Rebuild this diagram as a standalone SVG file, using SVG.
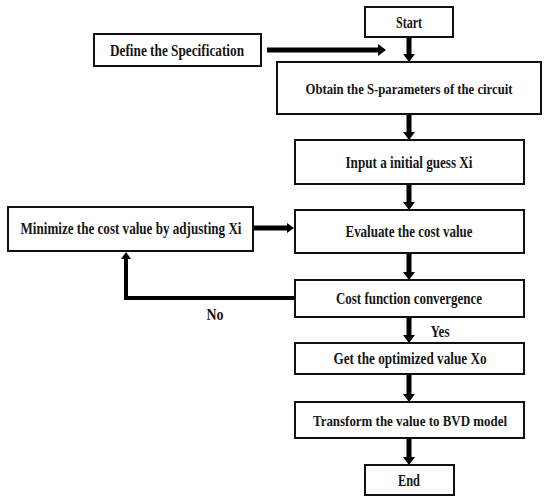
<svg xmlns="http://www.w3.org/2000/svg" width="550" height="503" viewBox="0 0 550 503">
<style>
.box{fill:#fff;stroke:#111;stroke-width:2}
.t{font-family:"Liberation Serif","Times New Roman",serif;font-weight:bold;font-size:16px;fill:#151515;text-anchor:middle}
.s{font-size:15px}
.c{stroke:#000;stroke-width:5;fill:none}
.c2{stroke:#000;stroke-width:4;fill:none}
</style>
<defs>
<marker id="ah" markerUnits="userSpaceOnUse" markerWidth="8" markerHeight="12" refX="0" refY="6" orient="auto"><path d="M0,0 L8,6 L0,12 z" fill="#000"/></marker>
<marker id="ahs" markerUnits="userSpaceOnUse" markerWidth="7" markerHeight="10" refX="0" refY="5" orient="auto"><path d="M0,0 L7,5 L0,10 z" fill="#000"/></marker>
</defs>
<rect width="550" height="503" fill="#fff"/>
<g id="connectors">
<line class="c" x1="409" y1="37" x2="409" y2="54" marker-end="url(#ah)"/>
<line class="c" x1="409" y1="114" x2="409" y2="132" marker-end="url(#ah)"/>
<line class="c" x1="409" y1="184" x2="409" y2="202" marker-end="url(#ah)"/>
<line class="c" x1="409" y1="253" x2="409" y2="272" marker-end="url(#ah)"/>
<line class="c" x1="409" y1="317" x2="409" y2="335" marker-end="url(#ah)"/>
<line class="c" x1="409" y1="374" x2="409" y2="394" marker-end="url(#ah)"/>
<line class="c" x1="409" y1="438" x2="409" y2="457" marker-end="url(#ah)"/>
<line class="c" x1="267" y1="50" x2="378" y2="50" marker-end="url(#ah)"/>
<line class="c" x1="253" y1="228" x2="287" y2="228" marker-end="url(#ahs)"/>
<polyline class="c2" points="295,298 126,298 126,259" marker-end="url(#ahs)"/>
<text class="t" x="440" y="337" textLength="19" lengthAdjust="spacingAndGlyphs">Yes</text>
<text class="t" x="215" y="320" textLength="17" lengthAdjust="spacingAndGlyphs">No</text>
</g>
<g id="start"><rect class="box" x="365" y="7" width="88" height="30"/><text class="t" x="409" y="28" textLength="26" lengthAdjust="spacingAndGlyphs">Start</text></g>
<g id="define"><rect class="box" x="94" y="34" width="167" height="32"/><text class="t" x="177" y="56" textLength="134" lengthAdjust="spacingAndGlyphs">Define the Specification</text></g>
<g id="obtain"><rect class="box" x="277" y="62" width="264" height="52"/><text class="t s" x="409" y="94" textLength="207" lengthAdjust="spacingAndGlyphs">Obtain the S-parameters of the circuit</text></g>
<g id="input"><rect class="box" x="295" y="140" width="229" height="44"/><text class="t" x="409" y="168" textLength="127" lengthAdjust="spacingAndGlyphs">Input a initial guess Xi</text></g>
<g id="evaluate"><rect class="box" x="295" y="210" width="229" height="43"/><text class="t" x="409" y="237" textLength="127" lengthAdjust="spacingAndGlyphs">Evaluate the cost value</text></g>
<g id="minimize"><rect class="box" x="8" y="207" width="245" height="44"/><text class="t" x="131" y="234" textLength="221" lengthAdjust="spacingAndGlyphs">Minimize the cost value by adjusting Xi</text></g>
<g id="cost"><rect class="box" x="295" y="280" width="229" height="37"/><text class="t" x="409" y="304" textLength="146" lengthAdjust="spacingAndGlyphs">Cost function convergence</text></g>
<g id="get"><rect class="box" x="295" y="343" width="229" height="31"/><text class="t" x="410" y="364" textLength="153" lengthAdjust="spacingAndGlyphs">Get the optimized value Xo</text></g>
<g id="transform"><rect class="box" x="295" y="402" width="229" height="36"/><text class="t s" x="410" y="426" textLength="194" lengthAdjust="spacingAndGlyphs">Transform the value to BVD model</text></g>
<g id="end"><rect class="box" x="365" y="465" width="89" height="30"/><text class="t" x="409" y="486" textLength="22" lengthAdjust="spacingAndGlyphs">End</text></g>
</svg>
